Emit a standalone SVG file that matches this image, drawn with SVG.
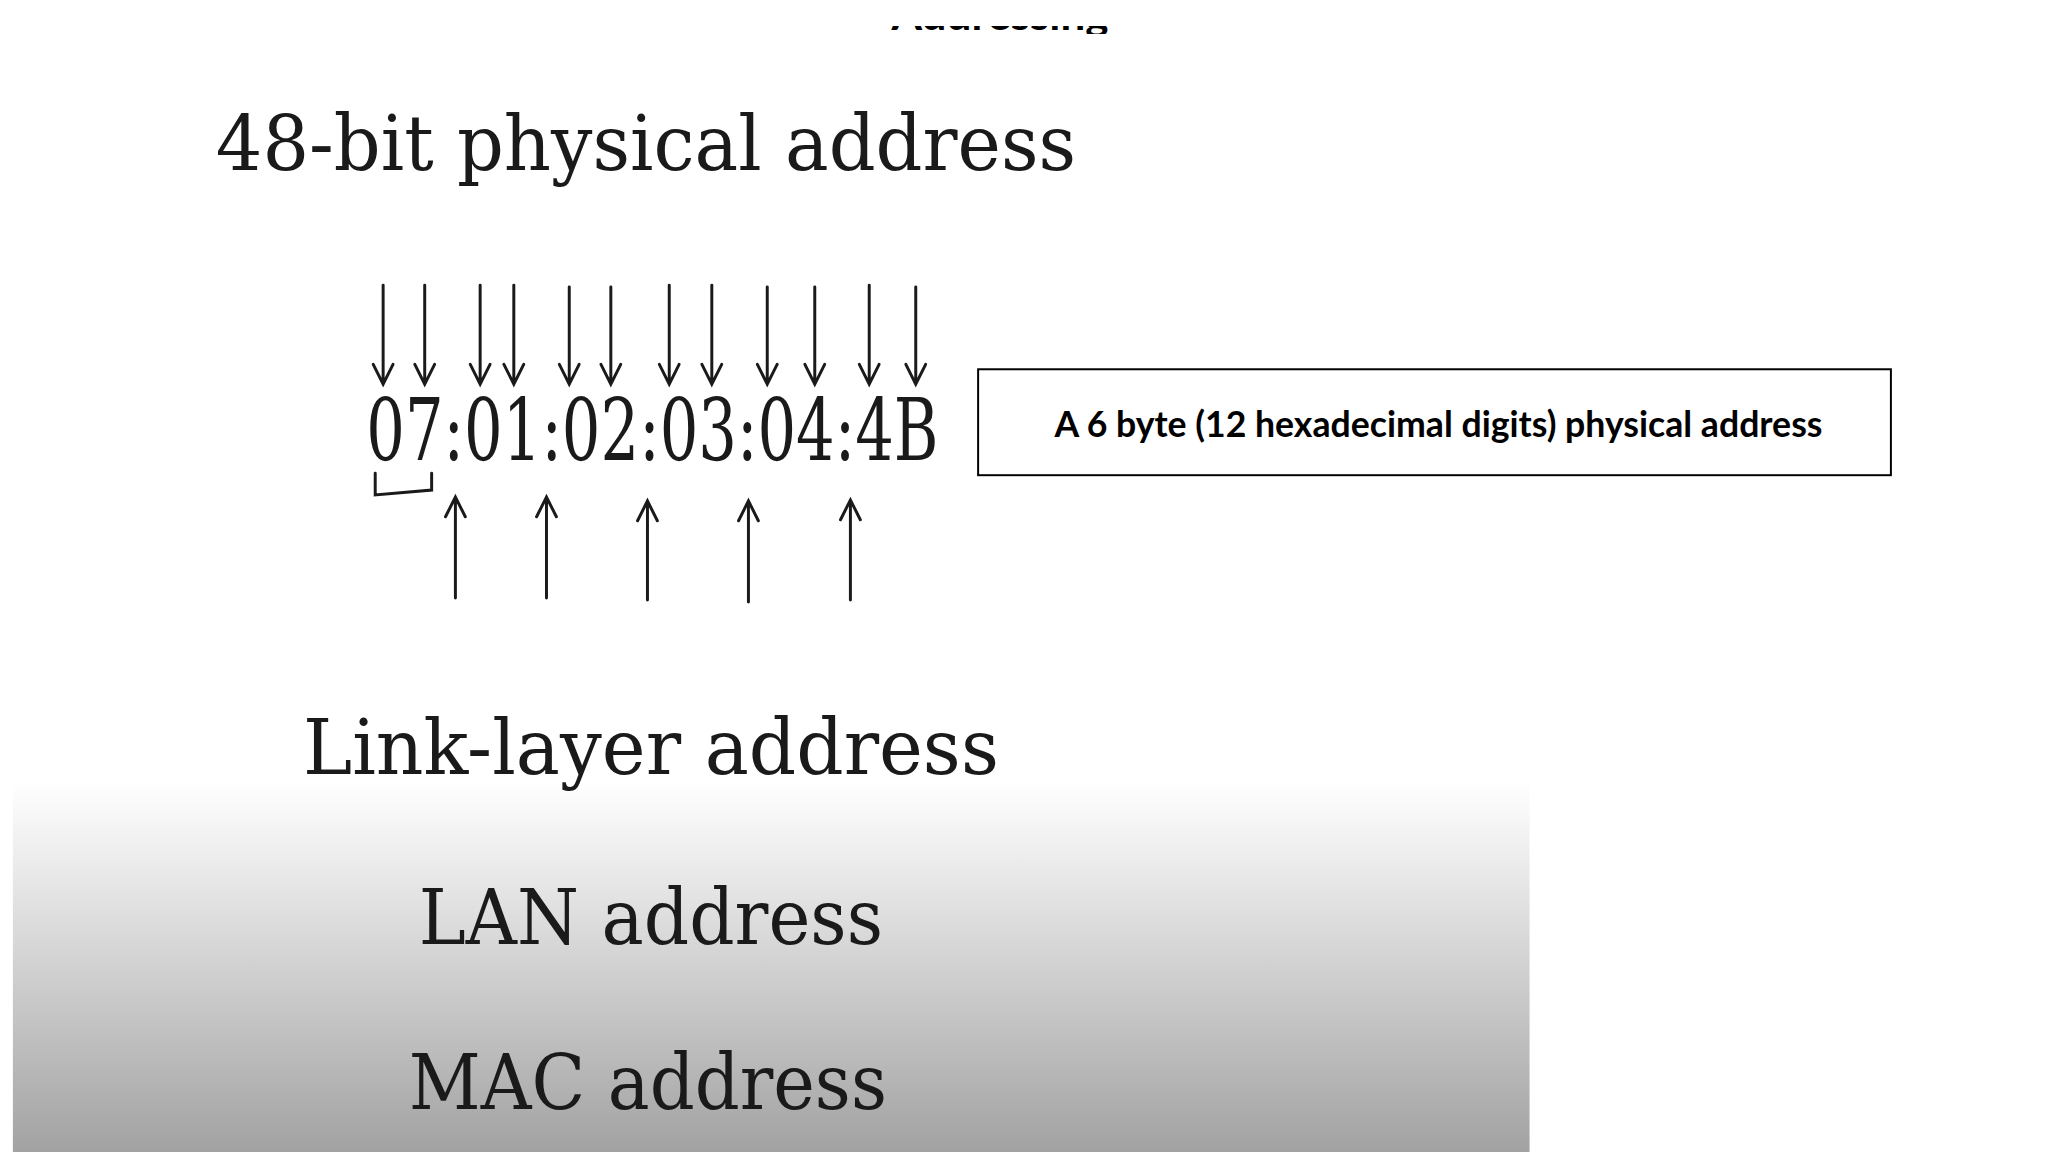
<svg xmlns="http://www.w3.org/2000/svg" width="2048" height="1152" viewBox="0 0 2048 1152">
<defs>
<linearGradient id="g" x1="0" y1="0" x2="0" y2="1">
<stop offset="0" stop-color="#ffffff"/>
<stop offset="0.25" stop-color="#e8e8e8"/>
<stop offset="1" stop-color="#a0a0a0"/>
</linearGradient>
<clipPath id="c"><rect x="0" y="26" width="2048" height="8"/></clipPath>
<style>
.s{font-family:"DejaVu Serif","Liberation Serif",serif;fill:#1a1a1a}
.a{stroke:#1a1a1a;stroke-width:3;fill:none;stroke-linecap:round}
</style>
</defs>
<rect width="2048" height="1152" fill="#fff"/>
<g clip-path="url(#c)"><text x="1000" y="30" text-anchor="middle" font-family="Lato,sans-serif" font-weight="bold" font-size="44">Addressing</text></g>
<g transform="scale(0.99)">
<rect x="13" y="790" width="1532" height="382" fill="url(#g)"/>
<g id="title"><text class="s" x="218" y="172" font-size="78" textLength="869" lengthAdjust="spacingAndGlyphs">48-bit physical address</text></g>
<g id="mac"><text class="s" x="370" y="465" font-size="86" textLength="578" lengthAdjust="spacingAndGlyphs">07:01:02:03:04:4B</text></g>
<g id="connectors">
<path class="a" d="M379,478 L379,500 L436,495 L436,478"/>
<g id="down">
<path class="a" d="M387,288V388M377,368L387,388L397,368"/>
<path class="a" d="M429,288V388M419,368L429,388L439,368"/>
<path class="a" d="M485,288V388M475,368L485,388L495,368"/>
<path class="a" d="M519,288V388M509,368L519,388L529,368"/>
<path class="a" d="M575,290V388M565,368L575,388L585,368"/>
<path class="a" d="M617,290V388M607,368L617,388L627,368"/>
<path class="a" d="M676,288V388M666,368L676,388L686,368"/>
<path class="a" d="M719,288V388M709,368L719,388L729,368"/>
<path class="a" d="M775,290V388M765,368L775,388L785,368"/>
<path class="a" d="M823,290V388M813,368L823,388L833,368"/>
<path class="a" d="M878,288V388M868,368L878,388L888,368"/>
<path class="a" d="M925,290V388M915,368L925,388L935,368"/>
</g>
<g id="up">
<path class="a" d="M460,604V502M450,522L460,502L470,522"/>
<path class="a" d="M552,604V502M542,522L552,502L562,522"/>
<path class="a" d="M654,606V506M644,526L654,506L664,526"/>
<path class="a" d="M756,608V506M746,526L756,506L766,526"/>
<path class="a" d="M859,606V505M849,525L859,505L869,525"/>
</g>
</g>
<g id="box">
<rect x="988" y="373" width="922" height="107" fill="#fff" stroke="#000" stroke-width="2"/>
<text x="1453" y="441" text-anchor="middle" font-family="Lato,sans-serif" font-weight="bold" font-size="36">A 6 byte (12 hexadecimal digits) physical address</text>
</g>
<g id="link"><text class="s" x="306" y="782" font-size="78" textLength="703" lengthAdjust="spacingAndGlyphs">Link-layer address</text></g>
<g id="lan"><text class="s" x="423" y="954" font-size="78" textLength="469" lengthAdjust="spacingAndGlyphs">LAN address</text></g>
<g id="macaddr"><text class="s" x="413" y="1120" font-size="78" textLength="483" lengthAdjust="spacingAndGlyphs">MAC address</text></g>
</g>
</svg>
